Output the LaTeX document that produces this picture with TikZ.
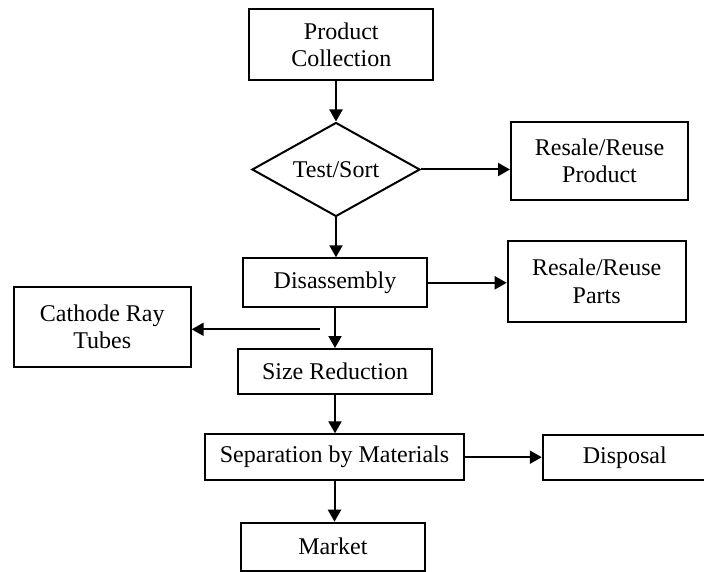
\documentclass[tikz,border=0pt]{standalone}
\usepackage{fontspec}
\setmainfont{Liberation Serif}
\usetikzlibrary{shapes.geometric,arrows.meta}

\begin{document}
\begin{tikzpicture}[x=1pt,y=-1pt,
  every node/.style={font=\fontsize{24}{27.3}\selectfont, align=center},
  stage/.style={draw, line width=2pt, rectangle, inner sep=0pt},
  decision/.style={draw, line width=2pt, diamond, aspect=1.79, inner sep=0pt,
                   minimum width=168pt, minimum height=94pt},
  flow/.style={line width=2pt, -{Triangle[length=12pt,width=13pt]}}]
  \useasboundingbox (0,0) rectangle (704,572);

  % process stages
  \node[stage, minimum width=184pt, minimum height=70.7pt] (pc) at (341.3,44.7) {Product\\Collection};
  \node[decision] (ts) at (336,169.5) {Test/Sort};
  \node[stage, minimum width=177pt, minimum height=78.3pt] (rrp) at (599.5,160.8) {Resale/Reuse\\Product};
  \node[stage, minimum width=184.6pt, minimum height=49pt] (dis) at (335,282.8) {Disassembly};
  \node[stage, minimum width=178pt, minimum height=81pt] (parts) at (596.7,281.2) {Resale/Reuse\\Parts};
  \node[stage, minimum width=176.7pt, minimum height=80.6pt] (crt) at (102.3,327) {Cathode Ray\\Tubes};
  \node[stage, minimum width=194.6pt, minimum height=45pt] (sr) at (335,371.5) {Size Reduction};
  \node[stage, minimum width=259pt, minimum height=45.7pt] (sep) at (334.5,457.2) {Separation by Materials};
  \node[stage, minimum width=164pt, minimum height=45pt] (disp) at (624.8,457.5) {Disposal};
  \node[stage, minimum width=184.3pt, minimum height=48pt] (mkt) at (332.9,546.7) {Market};

  % branch point for the tube line
  \coordinate (crtsrc) at (320,329.3);

  % connectors
  \draw[flow] (ts.north |- pc.south) -- (ts.north);
  \draw[flow] (ts.east) -- (ts.east -| rrp.west);
  \draw[flow] (ts.south) -- (ts.south |- dis.north);
  \draw[flow] (dis.east) -- (dis.east -| parts.west);
  \draw[flow] (dis.south) -- (dis.south |- sr.north);
  \draw[flow] (crtsrc) -- (crtsrc -| crt.east);
  \draw[flow] (sr.south) -- (sr.south |- sep.north);
  \draw[flow] (sep.east) -- (sep.east -| disp.west);
  \draw[flow] (sep.south) -- (sep.south |- mkt.north);
\end{tikzpicture}
\end{document}
